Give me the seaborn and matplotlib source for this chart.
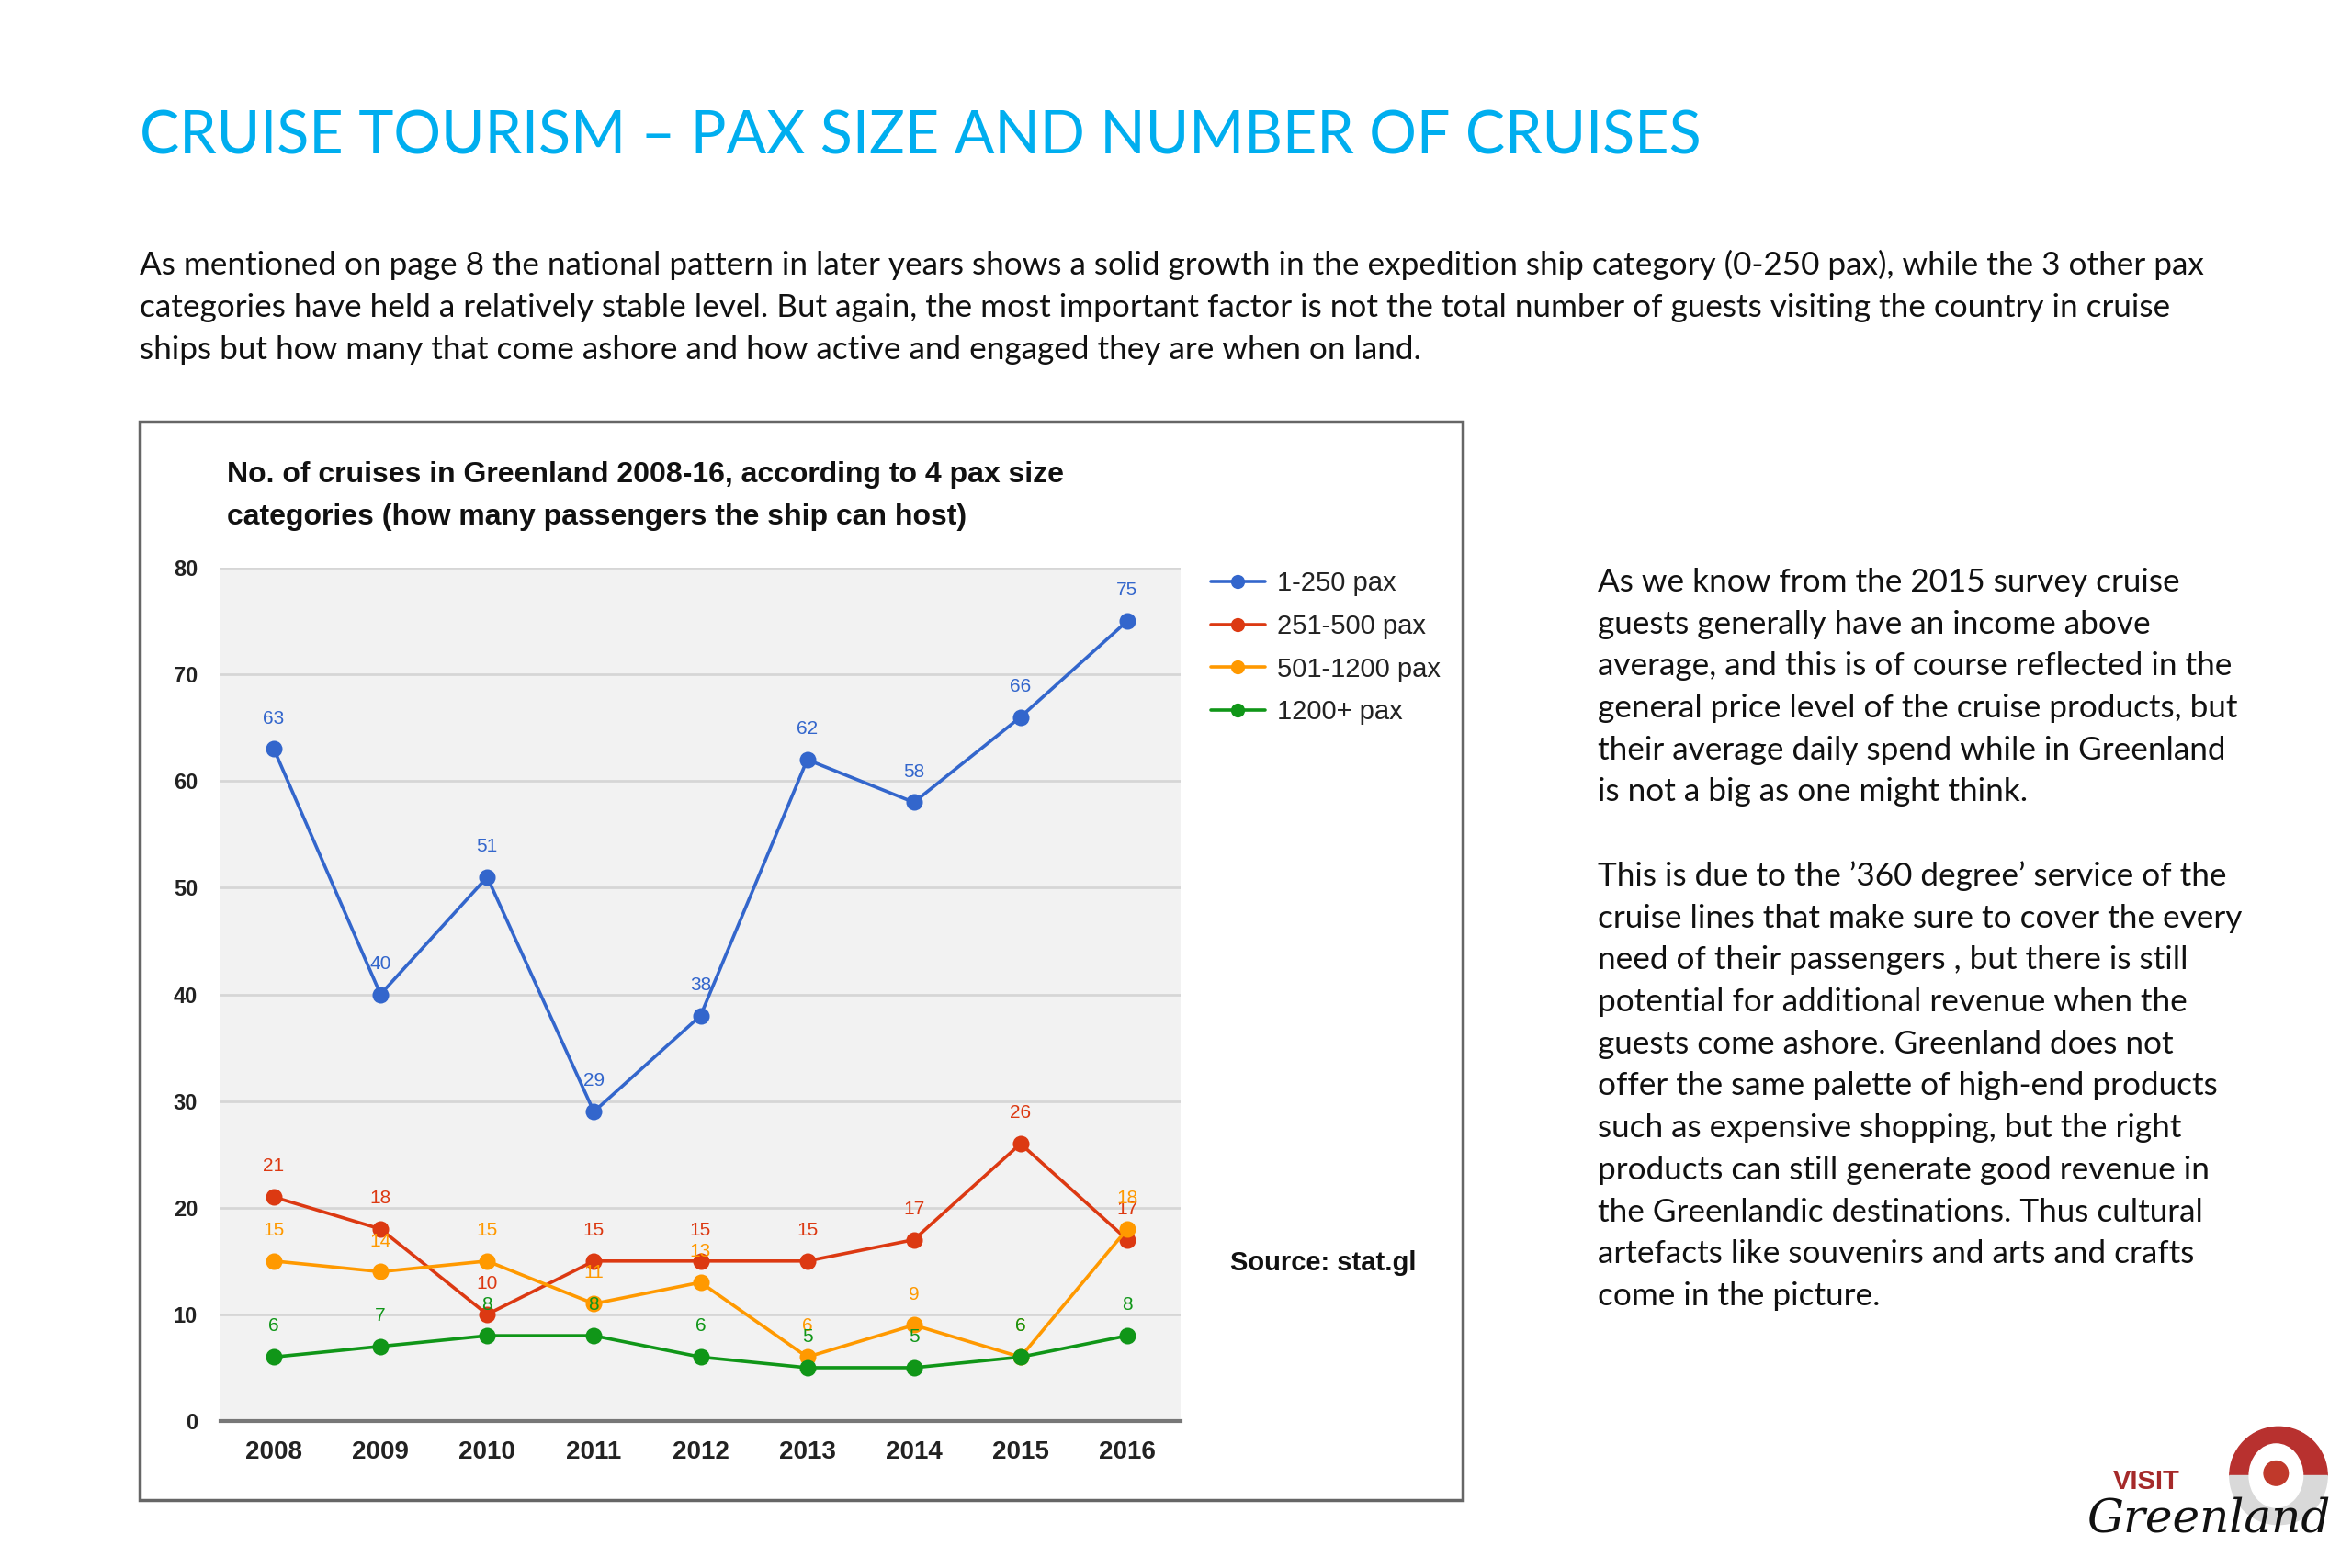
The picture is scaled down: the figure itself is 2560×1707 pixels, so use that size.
import matplotlib.pyplot as plt
import matplotlib.patches as mpatches
from matplotlib.lines import Line2D
import seaborn as sns
import pandas as pd

# --- data ---
years = [2008, 2009, 2010, 2011, 2012, 2013, 2014, 2015, 2016]
categories = ["1-250 pax", "251-500 pax", "501-1200 pax", "1200+ pax"]
pax_1_250 = [63, 40, 51, 29, 38, 62, 58, 66, 75]
pax_251_500 = [21, 18, 10, 15, 15, 15, 17, 26, 17]
pax_501_1200 = [15, 14, 15, 11, 13, 6, 9, 6, 18]
pax_1200_plus = [6, 7, 8, 8, 6, 5, 5, 6, 8]
y_ticks = [0, 10, 20, 30, 40, 50, 60, 70, 80]
colors = ["#3366cc", "#dc3912", "#ff9900", "#109618"]

page_title = "CRUISE TOURISM \u2013 PAX SIZE AND NUMBER OF CRUISES"
intro_lines = [
    "As mentioned on page 8 the national pattern in later years shows a solid growth in the expedition ship category (0-250 pax), while the 3 other pax",
    "categories have held a relatively stable level. But again, the most important factor is not the total number of guests visiting the country in cruise",
    "ships but how many that come ashore and how active and engaged they are when on land.",
]
chart_title = ["No. of cruises in Greenland 2008-16, according to 4 pax size",
               "categories (how many passengers the ship can host)"]
side_lines = [
    "As we know from the 2015 survey cruise",
    "guests generally have an income above",
    "average, and this is of course reflected in the",
    "general price level of the cruise products, but",
    "their average daily spend while in Greenland",
    "is not a big as one might think.",
    "",
    "This is due to the \u2019360 degree\u2019 service of the",
    "cruise lines that make sure to cover the every",
    "need of their passengers , but there is still",
    "potential for additional revenue when the",
    "guests come ashore. Greenland does not",
    "offer the same palette of high-end products",
    "such as expensive shopping, but the right",
    "products can still generate good revenue in",
    "the Greenlandic destinations. Thus cultural",
    "artefacts like souvenirs and arts and crafts",
    "come in the picture.",
]

W, H = 2560, 1707


def fx(px):
    return px / W


def fy(px):
    return 1 - px / H


sns.set_style("white")
plt.rcParams["font.family"] = ["Liberation Sans", "DejaVu Sans"]

df = pd.DataFrame({"year": years,
                   categories[0]: pax_1_250,
                   categories[1]: pax_251_500,
                   categories[2]: pax_501_1200,
                   categories[3]: pax_1200_plus})
df = df.melt(id_vars="year", var_name="category", value_name="cruises")

fig = plt.figure(figsize=(25.6, 17.07), dpi=100)

# page text
body_font = ["Lato", "DejaVu Sans"]
fig.text(fx(152), fy(167), page_title, color="#00aeef", fontsize=46.5,
         family=body_font, va="baseline")
for i, line in enumerate(intro_lines):
    fig.text(fx(152), fy(299 + i * 46), line, color="#111111", fontsize=25.3,
             family=body_font, va="baseline")
for i, line in enumerate(side_lines):
    fig.text(fx(1739), fy(644 + i * 45.7), line, color="#111111", fontsize=25.3,
             family=body_font, va="baseline")

# chart frame
fig.patches.append(mpatches.Rectangle((fx(152), fy(1633)), fx(1592) - fx(152),
                                      (1633 - 459) / H, transform=fig.transFigure,
                                      fill=False, edgecolor="#666666", linewidth=2.5))
for i, line in enumerate(chart_title):
    fig.text(fx(247), fy(525 + i * 46), line, fontsize=23, fontweight="bold",
             color="#111111", va="baseline")
fig.text(fx(1339), fy(1375), "Source: stat.gl", fontsize=21, fontweight="bold",
         color="#111111", va="center")

# line chart
ax = fig.add_axes([fx(240), fy(1547), fx(1285) - fx(240), (1547 - 618) / H])
ax.set_facecolor("#f2f2f2")
ax.set_axisbelow(True)
ax.yaxis.grid(True, color="#d6d6d6", linewidth=2)

sns.lineplot(data=df, x="year", y="cruises", hue="category", hue_order=categories,
             palette=colors, marker="o", markersize=13, markeredgewidth=0,
             linewidth=2.6, legend=False, ax=ax)

for cat, color in zip(categories, colors):
    sub = df[df["category"] == cat]
    for yr, val in zip(sub["year"], sub["cruises"]):
        ax.annotate(str(val), (yr, val), xytext=(0, 24), textcoords="offset points",
                    ha="center", va="center", fontsize=15, color=color)

ax.set_xlim(2007.5, 2016.5)
ax.set_ylim(0, 80)
ax.set_xticks(years)
ax.set_yticks(y_ticks)
ax.set_xlabel("")
ax.set_ylabel("")
ax.tick_params(axis="x", length=0, pad=15, labelsize=20, labelcolor="#222222")
ax.tick_params(axis="y", length=0, pad=18, labelsize=17, labelcolor="#222222")
for lbl in ax.get_xticklabels() + ax.get_yticklabels():
    lbl.set_fontweight("bold")
for side in ["top", "right", "left"]:
    ax.spines[side].set_visible(False)
ax.spines["bottom"].set_color("#777777")
ax.spines["bottom"].set_linewidth(3)

handles = [Line2D([], [], color=c, marker="o", markersize=11, linewidth=2.6,
                  markeredgewidth=0) for c in colors]
fig.legend(handles, categories, loc="upper left", bbox_to_anchor=(fx(1292), fy(595)),
           frameon=False, fontsize=21, handlelength=2.0, handletextpad=0.45,
           labelspacing=0.64, labelcolor="#222222")

# logo
lax = fig.add_axes([fx(2420), fy(1665), fx(2540) - fx(2420), (1665 - 1548) / H])
lax.set_aspect("equal")
lax.set_xlim(-1.1, 1.1)
lax.set_ylim(-1.1, 1.1)
lax.axis("off")
lax.add_patch(mpatches.Wedge((0, 0), 1, 0, 180, color="#b8312f"))
lax.add_patch(mpatches.Wedge((0, 0), 1, 180, 360, color="#d9d9d9"))
lax.add_patch(mpatches.Ellipse((-0.05, 0.0), 1.1, 1.3, color="white"))
lax.add_patch(mpatches.Circle((-0.05, 0.05), 0.25, color="#c0392b"))
fig.text(fx(2300), fy(1621), "VISIT", fontsize=21, fontweight="bold",
         color="#a52a2a", va="baseline")
fig.text(fx(2272), fy(1668), "Greenland", fontsize=36, style="italic",
         family=["DejaVu Serif"], color="#111111", va="baseline")

plt.savefig("out.png", dpi=100)
